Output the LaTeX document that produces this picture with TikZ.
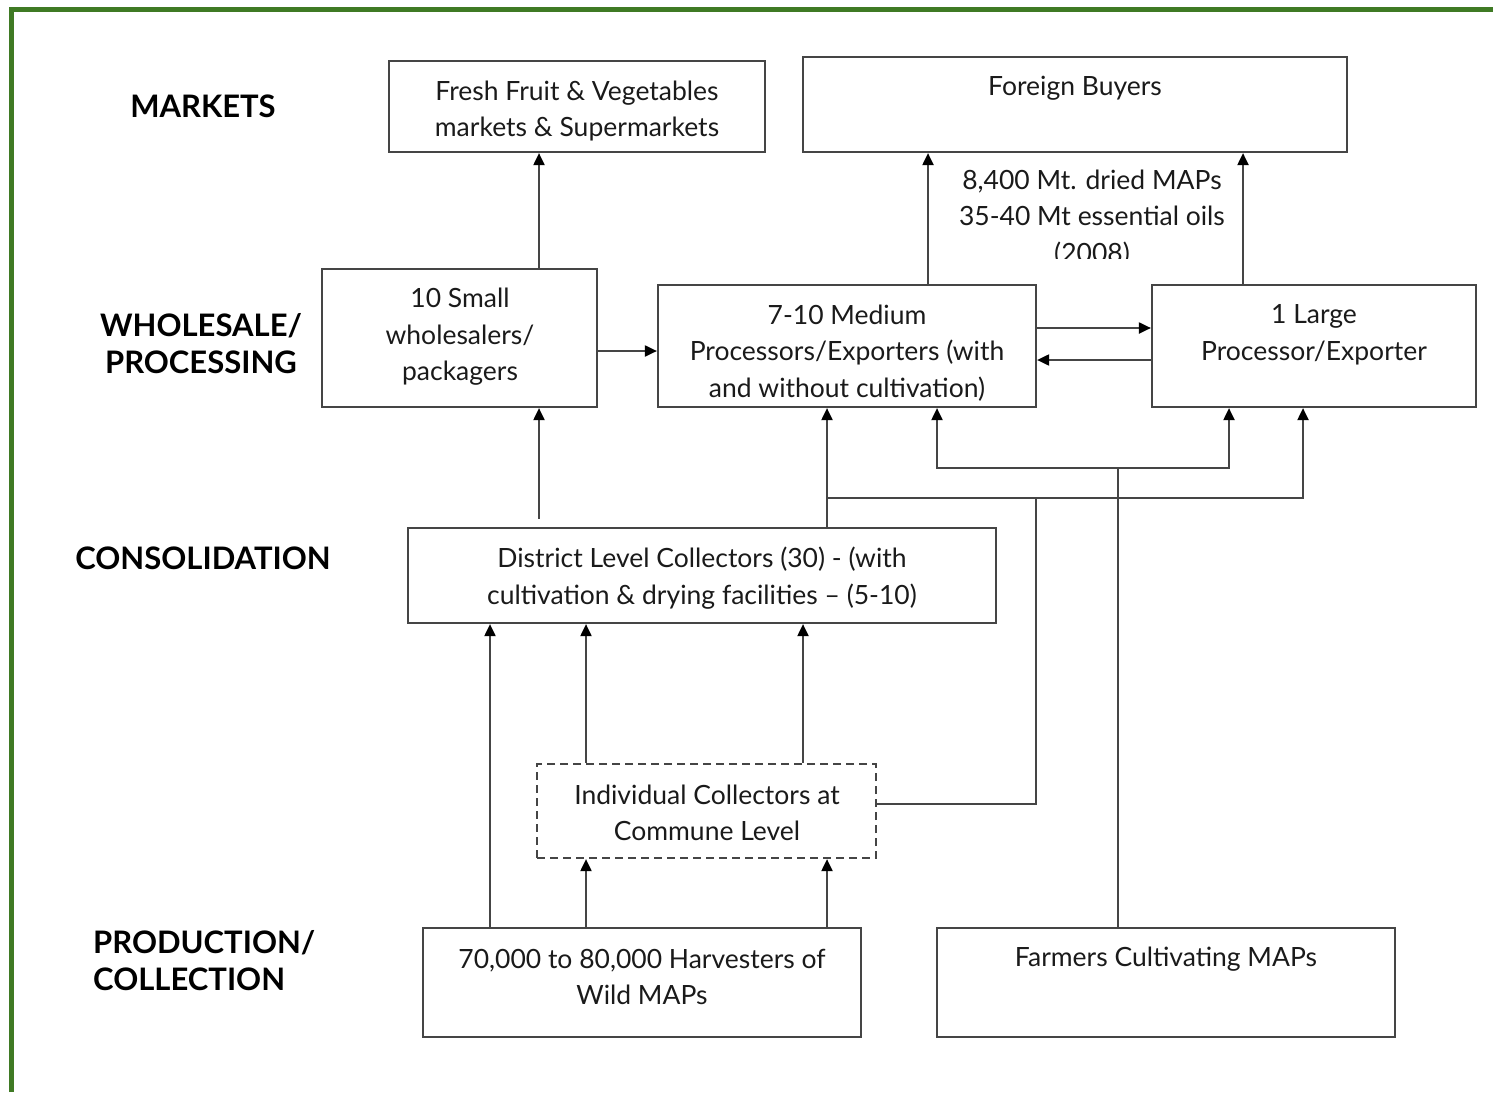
\documentclass[tikz,border=0pt]{standalone}
\usepackage{fontspec}
\setmainfont{Lato}
\usetikzlibrary{arrows.meta}
\definecolor{bordergreen}{HTML}{3F7A24}
\definecolor{linegray}{HTML}{454545}
\definecolor{txtcol}{HTML}{1A1A1A}
\begin{document}
\begin{tikzpicture}[x=1pt,y=-1pt,
  box/.style={draw=linegray,line width=2.2pt,inner sep=0pt,fill=none},
  dbox/.style={box,dash pattern=on 8pt off 5pt},
  txt/.style={text=txtcol,align=center,inner sep=0pt,font=\fontsize{26.5}{36.5}\selectfont},
  lab/.style={text=black,inner sep=0pt,font=\fontsize{31}{37}\selectfont\bfseries},
  conn/.style={draw=linegray,line width=2pt},
  tip/.style={},
  arr/.style={conn,-{Triangle[length=12pt,width=11pt,fill=black,color=black]}},
  arrboth/.style={conn,{Triangle[length=12pt,width=11pt,fill=black,color=black]}-{Triangle[length=12pt,width=11pt,fill=black,color=black]}}]
\useasboundingbox (0,0) rectangle (1493,1092);
\draw[bordergreen,line width=4.7pt] (11.7,1092) -- (11.7,9.5) -- (1493,9.5);

% column / row coordinates
\coordinate (c490) at (490,0);
\coordinate (c539) at (539,0);
\coordinate (c586) at (586,0);
\coordinate (c803) at (803,0);
\coordinate (c827) at (827,0);
\coordinate (c928) at (928,0);
\coordinate (c937) at (937,0);
\coordinate (c1036) at (1036,0);
\coordinate (c1118) at (1118,0);
\coordinate (c1229) at (1229,0);
\coordinate (c1243) at (1243,0);
\coordinate (c1303) at (1303,0);
\coordinate (r328) at (0,328);
\coordinate (r351) at (0,351);
\coordinate (r360) at (0,360);
\coordinate (r468) at (0,468);
\coordinate (r498) at (0,498);
\coordinate (r804) at (0,804);

% left labels
\node[lab] (lmarkets) at (203,106) {MARKETS};
\node[lab,align=center] (lwhole) at (201,344) {WHOLESALE/\\PROCESSING};
\node[lab] (lcons) at (203,558) {CONSOLIDATION};
\node[lab,align=left,anchor=west] (lprod) at (93,961) {PRODUCTION/\\COLLECTION};

% boxes
\node[box,minimum width=376pt,minimum height=91pt] (fresh) at (577,106.5) {};
\node[box,minimum width=544pt,minimum height=95pt] (foreign) at (1075,104.5) {};
\node[box,minimum width=275pt,minimum height=138pt] (small) at (459.5,338) {};
\node[box,minimum width=378pt,minimum height=122pt] (medium) at (847,346) {};
\node[box,minimum width=324pt,minimum height=122pt] (large) at (1314,346) {};
\node[box,minimum width=588pt,minimum height=95pt] (district) at (702,575.5) {};
\node[dbox,minimum width=339pt,minimum height=94pt] (indiv) at (706.5,811) {};
\node[box,minimum width=438pt,minimum height=109pt] (harv) at (642,982.5) {};
\node[box,minimum width=458pt,minimum height=109pt] (farm) at (1166,982.5) {};

% box texts
\node[txt] (freshT) at (577,111) {Fresh Fruit \& Vegetables\\markets \& Supermarkets};
\node[txt] (foreignT) at (1075,88) {Foreign Buyers};
\node[txt] (smallT) at (460,337) {10 Small\\wholesalers/\\packagers};
\node[txt] (mediumT) at (847,353) {7-10 Medium\\Processors/Exporters (with\\and without cultivation)};
\node[txt] (largeT) at (1314,335) {1 Large\\Processor/Exporter};
\node[txt] (districtT) at (702,578) {District Level Collectors (30) - (with\\cultivation \& drying facilities -- (5-10)};
\node[txt] (indivT) at (707,813) {Individual Collectors at\\Commune Level};
\node[txt] (harvT) at (642,977) {70,000 to 80,000 Harvesters of\\Wild MAPs};
\node[txt] (farmT) at (1166,959) {Farmers Cultivating MAPs};
\begin{scope}
\clip (900,160) rectangle (1240,258);
\node[txt] (info) at (1092,218) {8,400 Mt. dried MAPs\\35-40 Mt essential oils\\(2008)};
\end{scope}

% connectors
\draw[arr] (small.north -| c539) -- (fresh.south -| c539);
\draw[arr] (small.east |- r351) -- (medium.west |- r351);
\draw[arr] (medium.north -| c928) -- (foreign.south -| c928);
\draw[arr] (large.north -| c1243) -- (foreign.south -| c1243);
\draw[arr] (medium.east |- r328) -- (large.west |- r328);
\draw[arr] (large.west |- r360) -- (medium.east |- r360);
\draw[arr,shorten <=8pt] (district.north -| c539) -- (small.south -| c539);
\draw[arr] (district.north -| c827) -- (medium.south -| c827);
\draw[arr] (c827 |- r498) -- (c1303 |- r498) -- (large.south -| c1303);
\draw[conn] (indiv.east |- r804) -| (c1036 |- r498);
\draw[conn] (farm.north -| c1118) -- (c1118 |- r468);
\draw[arrboth] (medium.south -| c937) -- (c937 |- r468) -- (c1229 |- r468) -- (large.south -| c1229);
\draw[arr] (harv.north -| c490) -- (district.south -| c490);
\draw[arr] (harv.north -| c586) -- (indiv.south -| c586);
\draw[arr] (harv.north -| c827) -- (indiv.south -| c827);
\draw[arr] (indiv.north -| c586) -- (district.south -| c586);
\draw[arr] (indiv.north -| c803) -- (district.south -| c803);
\end{tikzpicture}
\end{document}
